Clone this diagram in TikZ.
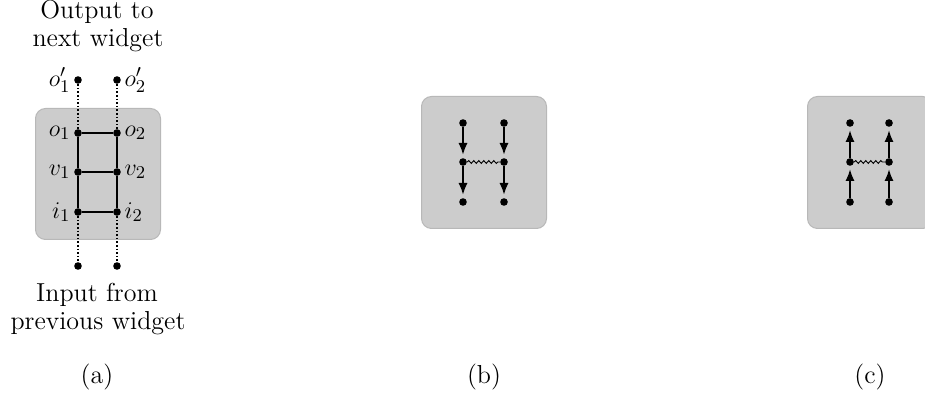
\documentclass[tikz,border=0pt]{standalone}
\usetikzlibrary{arrows.meta,decorations.pathmorphing}
\definecolor{boxfill}{HTML}{CCCCCC}
\definecolor{boxline}{HTML}{B8B8B8}
\begin{document}
\begin{tikzpicture}[x=0.5pt,y=-0.5pt,
  font=\fontsize{13}{15}\selectfont,
  dot/.style={circle,fill=black,inner sep=0pt,minimum size=3.8pt},
  widget/.style={fill=boxfill,draw=boxline,line width=0.5pt,rounded corners=5pt},
  rung/.style={line width=1.1pt},
  wire/.style={line width=0.8pt,dash pattern=on 0.8pt off 1pt},
  arr/.style={line width=1.1pt,-{Latex[length=6pt,width=4.6pt]},shorten >=1.4pt},
  wave/.style={line width=0.45pt,decorate,decoration={snake,amplitude=0.7pt,segment length=2.5pt}},
  lbl/.style={inner sep=1.5pt}]
\useasboundingbox (0,0) rectangle (925,394);
% ---------- (a)
\node[widget,minimum width=62.5pt,minimum height=65.5pt,anchor=north west] (boxa) at (35,108) {};
\node[dot] (o1) at (78,133) {};
\node[dot] (o2) at (117,133) {};
\node[dot] (v1) at (78,172) {};
\node[dot] (v2) at (117,172) {};
\node[dot] (i1) at (78,212) {};
\node[dot] (i2) at (117,212) {};
\node[dot] (p1) at (78,80) {};
\node[dot] (p2) at (117,80) {};
\node[dot] (q1) at (78,266) {};
\node[dot] (q2) at (117,266) {};
\draw[wire] (p1) -- (o1);
\draw[wire] (p2) -- (o2);
\draw[wire] (i1) -- (q1);
\draw[wire] (i2) -- (q2);
\draw[rung] (o1) -- (o2);
\draw[rung] (v1) -- (v2);
\draw[rung] (i1) -- (i2);
\draw[rung] (o1) -- (v1) -- (i1);
\draw[rung] (o2) -- (v2) -- (i2);
\node[lbl,left] at (o1.west) {$o_1$};
\node[lbl,right] at (o2.east) {$o_2$};
\node[lbl,left] at (v1.west) {$v_1$};
\node[lbl,right] at (v2.east) {$v_2$};
\node[lbl,left] at (i1.west) {$i_1$};
\node[lbl,right] at (i2.east) {$i_2$};
\node[lbl,left] at (p1.west) {$o_1'$};
\node[lbl,right] at (p2.east) {$o_2'$};
\node (outa) at (97,12) {Output to};
\node (outb) at (98,40) {next widget};
\node (ina) at (97,295) {Input from};
\node (inb) at (98,323) {previous widget};
\node (capa) at (97,377) {(a)};
% ---------- (b)
\node[widget,minimum width=62.5pt,minimum height=66pt,anchor=north west] (boxb) at (421,96) {};
\node[dot] (b1) at (463,123) {};
\node[dot] (b2) at (504,123) {};
\node[dot] (b3) at (463,162) {};
\node[dot] (b4) at (504,162) {};
\node[dot] (b5) at (463,202) {};
\node[dot] (b6) at (504,202) {};
\draw[arr] (b1) -- (b3);
\draw[arr] (b3) -- (b5);
\draw[arr] (b2) -- (b4);
\draw[arr] (b4) -- (b6);
\draw[wave] (b3) -- (b4);
\node (capb) at (484,377) {(b)};
% ---------- (c)
\node[widget,minimum width=62.5pt,minimum height=66pt,anchor=north west] (boxc) at (807,96) {};
\node[dot] (c1) at (850,123) {};
\node[dot] (c2) at (889,123) {};
\node[dot] (c3) at (850,162) {};
\node[dot] (c4) at (889,162) {};
\node[dot] (c5) at (850,202) {};
\node[dot] (c6) at (889,202) {};
\draw[arr] (c5) -- (c3);
\draw[arr] (c3) -- (c1);
\draw[arr] (c6) -- (c4);
\draw[arr] (c4) -- (c2);
\draw[wave] (c3) -- (c4);
\node (capc) at (870,377) {(c)};
\end{tikzpicture}
\end{document}
